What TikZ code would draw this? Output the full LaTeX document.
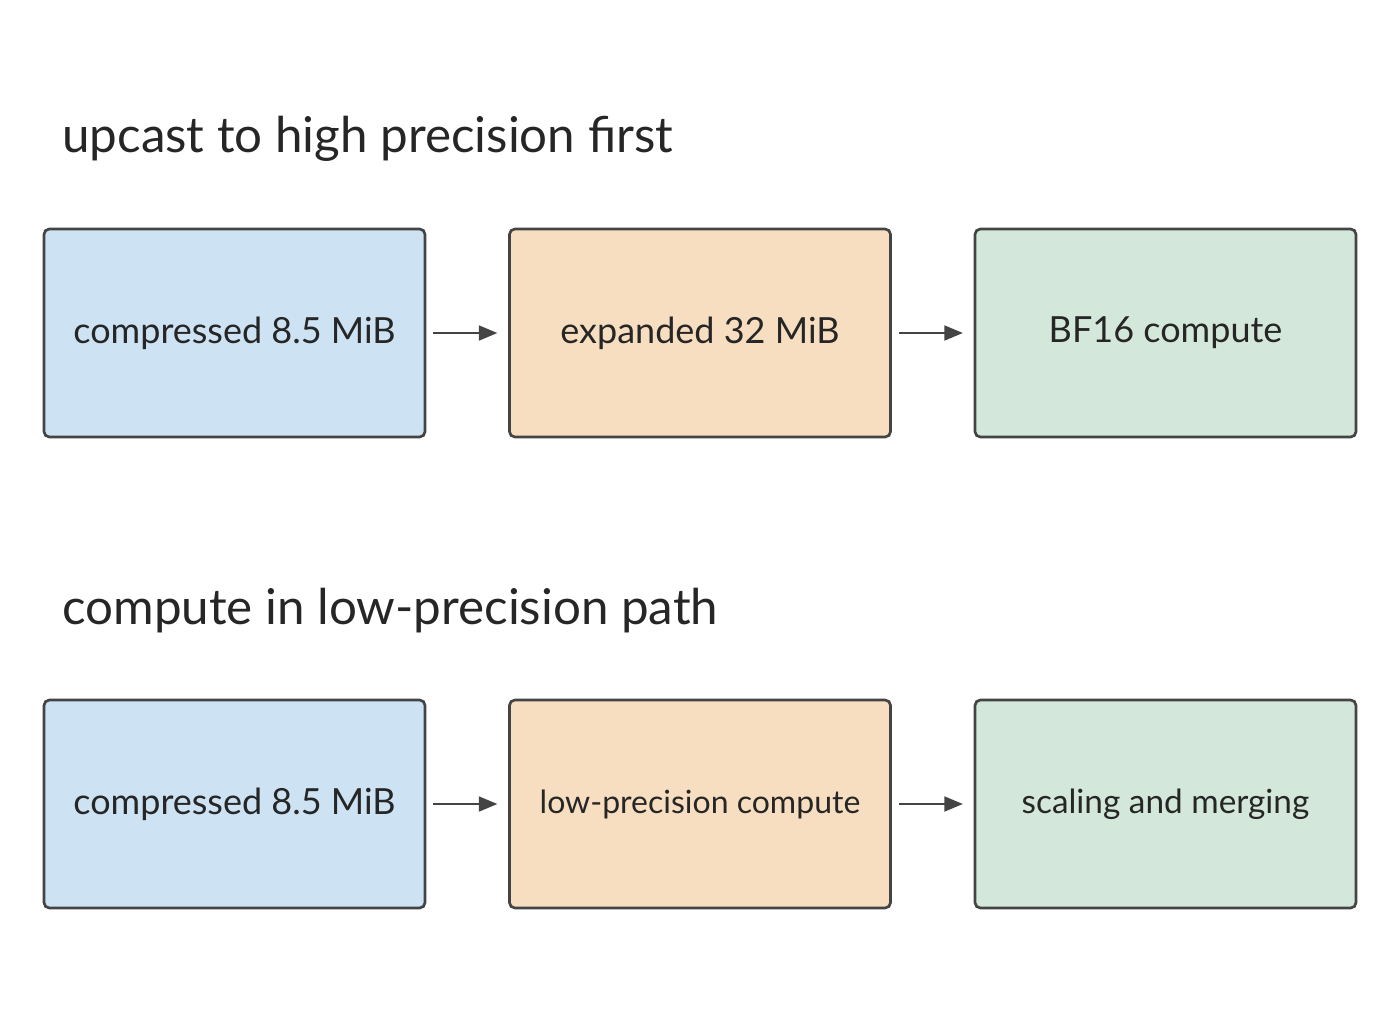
\documentclass[tikz,border=0pt]{standalone}
\usepackage{fontspec}
\setmainfont{Lato}
\usetikzlibrary{arrows.meta}
\definecolor{cb}{HTML}{CDE3F3}
\definecolor{co}{HTML}{F8DEC0}
\definecolor{cg}{HTML}{D3E8DA}
\definecolor{ln}{HTML}{444444}
\begin{document}
\begin{tikzpicture}[x=0.75pt,y=-0.75pt,
 box/.style={draw=ln,line width=2pt,rounded corners=4pt,minimum width=381*0.75pt,minimum height=208*0.75pt,inner sep=0pt,text=black!85,font=\fontsize{27}{32}\selectfont},
 arr/.style={draw=ln,line width=2.2pt,-{Triangle[length=14pt,width=11pt]}},
 ttl/.style={anchor=base west,inner sep=0pt,text=black!85,font=\fontsize{37}{44}\selectfont}]
\useasboundingbox (0,0) rectangle (1400,1035);
\node[ttl] (t1) at (62,152) {upcast to high precision first};
\node[ttl] (t2) at (62,624) {compute in low-precision path};
\node[box,fill=cb] (a1) at (234.5,333) {compressed 8.5 MiB};
\node[box,fill=co] (b1) at (700,333) {expanded 32 MiB};
\node[box,fill=cg] (c1) at (1165.5,333) {BF16 compute};
\node[box,fill=cb] (a2) at (234.5,804) {compressed 8.5 MiB};
\node[box,fill=co,font=\fontsize{24}{28}\selectfont] (b2) at (700,804) {low-precision compute};
\node[box,fill=cg,font=\fontsize{25}{30}\selectfont] (c2) at (1165.5,804) {scaling and merging};
\draw[arr] ([xshift=5pt]a1.east) -- ([xshift=-8pt]b1.west);
\draw[arr] ([xshift=5pt]b1.east) -- ([xshift=-8pt]c1.west);
\draw[arr] ([xshift=5pt]a2.east) -- ([xshift=-8pt]b2.west);
\draw[arr] ([xshift=5pt]b2.east) -- ([xshift=-8pt]c2.west);
\end{tikzpicture}
\end{document}
